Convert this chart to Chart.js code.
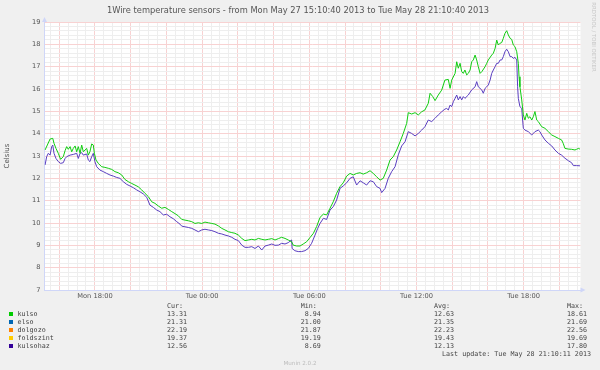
<!DOCTYPE html>
<html>
<head>
<meta charset="utf-8">
<script src="https://cdn.jsdelivr.net/npm/chart.js@4.4.0/dist/chart.umd.min.js"></script>
<style>
html, body { margin: 0; padding: 0; background: #f0f0f0; }
#wrap { position: relative; width: 600px; height: 370px; overflow: hidden; font-family: "DejaVu Sans", sans-serif; color: #555; }
#c { position: absolute; left: 0; top: 0; }
.t { position: absolute; white-space: pre; }
.mono { font-family: "DejaVu Sans Mono", monospace; font-size: 6.7px; line-height: 8px; color: #444; }
.box { position: absolute; width: 4px; height: 4px; }
</style>
</head>
<body>
<div id="wrap">
  <canvas id="c" width="600" height="370"></canvas>
  <div class="t" id="title" style="left:-2px; width:600px; top:5px; text-align:center; font-size:8.3px; line-height:10px; color:#555;">1Wire temperature sensors - from Mon May 27 15:10:40 2013 to Tue May 28 21:10:40 2013</div>
  <div class="t" id="ylabel" style="left:-23.5px; top:151px; width:60px; text-align:center; font-size:7px; line-height:10px; transform:rotate(-90deg);">Celsius</div>
  <div class="t" id="rrd" style="left:554px; top:33px; width:80px; text-align:center; font-size:5.4px; line-height:8px; color:#c8c8c8; transform:rotate(90deg);">RRDTOOL / TOBI OETIKER</div>
  <div id="legend"></div>
  <div class="t mono" style="left:442px; top:350px;">Last update: Tue May 28 21:10:11 2013</div>
  <div class="t" style="left:0; width:600px; top:359px; text-align:center; font-size:5.6px; line-height:8px; color:#bbb;">Munin 2.0.2</div>
</div>
<script>
// hours counted from Mon 00:00
const xMin = 15.178;
const xMax = 45.18;
const xTickHours = [18, 24, 30, 36, 42];
const xTickLabels = ['Mon 18:00', 'Tue 00:00', 'Tue 06:00', 'Tue 12:00', 'Tue 18:00'];

const kulsoTime = [15.21, 15.49, 15.64, 15.71, 15.82, 15.95, 16.08, 16.23, 16.33, 16.42, 16.51, 16.61, 16.70, 16.79, 16.89, 16.98, 17.07, 17.17, 17.26, 17.35,
  17.54, 17.63, 17.72, 17.82, 17.91, 17.97, 18.06, 18.19, 18.38, 18.56, 18.75, 18.94, 19.12, 19.31, 19.50, 19.68, 19.87, 20.06, 20.24, 20.43,
  20.62, 20.80, 20.99, 21.18, 21.36, 21.55, 21.74, 21.92, 22.11, 22.30, 22.48, 22.67, 22.86, 23.04, 23.23, 23.42, 23.60, 23.79, 23.98, 24.16,
  24.35, 24.54, 24.72, 24.91, 25.10, 25.28, 25.47, 25.66, 25.84, 26.03, 26.22, 26.40, 26.59, 26.78, 26.96, 27.15, 27.34, 27.52, 27.71, 27.90,
  28.08, 28.27, 28.45, 28.64, 28.82, 29.01, 29.10, 29.29, 29.48, 29.66, 29.85, 30.04, 30.23, 30.41, 30.60, 30.79, 30.97, 31.16, 31.34, 31.53,
  31.72, 31.90, 32.09, 32.28, 32.46, 32.65, 32.84, 33.02, 33.21, 33.40, 33.58, 33.77, 33.96, 34.14, 34.33, 34.52, 34.70, 34.89, 35.08, 35.26,
  35.45, 35.54, 35.73, 35.92, 36.10, 36.29, 36.47, 36.66, 36.76, 36.91, 37.04, 37.22, 37.41, 37.59, 37.78, 37.88, 37.97, 38.16, 38.25, 38.34,
  38.44, 38.53, 38.62, 38.71, 38.81, 38.90, 39.00, 39.09, 39.18, 39.28, 39.37, 39.46, 39.56, 39.66, 39.84, 39.93, 40.02, 40.21, 40.30, 40.40,
  40.49, 40.58, 40.68, 40.77, 40.86, 40.95, 41.05, 41.14, 41.24, 41.33, 41.42, 41.51, 41.61, 41.70, 41.74, 41.79, 41.89, 41.98, 42.07, 42.17,
  42.26, 42.35, 42.45, 42.54, 42.63, 42.73, 42.82, 43.01, 43.19, 43.38, 43.57, 43.75, 43.94, 44.12, 44.21, 44.31, 44.50, 44.68, 44.87, 44.96,
  45.06, 45.15];
const kulso = [13.27, 13.76, 13.79, 13.57, 13.34, 13.12, 12.85, 12.97, 13.24, 13.42, 13.30, 13.42, 13.19, 13.34, 13.45, 13.19, 13.42, 13.12, 13.49, 13.19,
  13.34, 13.04, 13.19, 13.54, 13.49, 13.12, 12.82, 12.67, 12.52, 12.49, 12.45, 12.40, 12.30, 12.25, 12.15, 11.95, 11.85, 11.77, 11.70, 11.62,
  11.48, 11.33, 11.18, 10.95, 10.88, 10.76, 10.66, 10.70, 10.61, 10.51, 10.42, 10.32, 10.16, 10.13, 10.10, 10.06, 9.98, 10.01, 9.98, 10.04,
  10.01, 9.98, 9.95, 9.87, 9.76, 9.69, 9.61, 9.57, 9.54, 9.46, 9.31, 9.21, 9.24, 9.27, 9.24, 9.31, 9.27, 9.24, 9.27, 9.30,
  9.24, 9.30, 9.36, 9.31, 9.24, 9.16, 9.01, 8.97, 8.97, 9.06, 9.16, 9.35, 9.54, 9.84, 10.25, 10.40, 10.36, 10.66, 10.95, 11.33,
  11.63, 11.80, 12.10, 12.22, 12.15, 12.22, 12.25, 12.19, 12.25, 12.34, 12.22, 12.07, 11.92, 12.00, 12.37, 12.82, 12.97, 13.27, 13.64, 14.01,
  14.46, 14.94, 14.88, 14.94, 14.84, 14.98, 15.06, 15.36, 15.81, 15.66, 15.48, 15.73, 15.95, 16.40, 16.43, 16.03, 16.40, 16.70, 17.22, 16.93,
  17.15, 16.78, 16.70, 16.85, 16.63, 16.70, 16.85, 17.22, 17.30, 17.52, 17.30, 17.00, 16.70, 16.78, 17.00, 17.15, 17.30, 17.52, 17.60, 17.82,
  18.19, 17.97, 18.05, 18.08, 18.27, 18.49, 18.61, 18.42, 18.27, 18.22, 17.97, 17.90, 17.67, 17.15, 16.55, 16.10, 15.51, 14.84, 14.61, 14.91,
  14.69, 14.76, 14.61, 14.76, 14.99, 14.61, 14.54, 14.31, 14.24, 14.09, 13.94, 13.87, 13.79, 13.72, 13.57, 13.34, 13.31, 13.30, 13.27, 13.30,
  13.34, 13.31];

const kulsohazTime = [15.21, 15.30, 15.39, 15.49, 15.58, 15.64, 15.71, 15.82, 15.95, 16.08, 16.23, 16.33, 16.42, 16.61, 16.79, 16.98, 17.07, 17.17, 17.26, 17.35,
  17.54, 17.63, 17.72, 17.82, 17.91, 18.00, 18.10, 18.28, 18.47, 18.66, 18.84, 19.03, 19.22, 19.40, 19.59, 19.78, 19.96, 20.15, 20.34, 20.52,
  20.71, 20.90, 21.08, 21.27, 21.46, 21.64, 21.83, 22.02, 22.20, 22.39, 22.58, 22.76, 22.86, 23.04, 23.23, 23.42, 23.60, 23.79, 23.98, 24.16,
  24.35, 24.54, 24.72, 24.91, 25.10, 25.28, 25.47, 25.66, 25.84, 26.03, 26.22, 26.40, 26.59, 26.78, 26.96, 27.15, 27.34, 27.52, 27.71, 27.90,
  28.08, 28.27, 28.45, 28.64, 28.82, 29.01, 29.04, 29.19, 29.38, 29.57, 29.76, 29.94, 30.13, 30.32, 30.47, 30.60, 30.79, 30.97, 31.16, 31.34,
  31.53, 31.72, 31.90, 32.09, 32.28, 32.46, 32.65, 32.84, 33.02, 33.21, 33.40, 33.58, 33.77, 33.96, 34.05, 34.24, 34.42, 34.61, 34.80, 34.98,
  35.17, 35.36, 35.54, 35.73, 35.92, 36.10, 36.29, 36.47, 36.66, 36.85, 37.04, 37.22, 37.41, 37.59, 37.69, 37.78, 37.88, 37.97, 38.06, 38.16,
  38.25, 38.34, 38.44, 38.53, 38.62, 38.71, 38.90, 39.09, 39.28, 39.37, 39.46, 39.65, 39.74, 39.84, 39.93, 40.02, 40.12, 40.21, 40.30, 40.40,
  40.49, 40.58, 40.68, 40.77, 40.86, 40.95, 41.05, 41.14, 41.24, 41.33, 41.42, 41.51, 41.61, 41.66, 41.70, 41.79, 41.89, 41.94, 41.98, 42.07,
  42.26, 42.45, 42.63, 42.82, 42.91, 43.01, 43.19, 43.38, 43.57, 43.75, 43.94, 44.12, 44.31, 44.50, 44.68, 44.78, 44.96, 45.15];
const kulsohaz = [12.60, 12.97, 13.12, 13.04, 13.42, 13.49, 13.12, 12.89, 12.75, 12.67, 12.70, 12.89, 12.97, 13.04, 13.07, 13.12, 12.89, 13.12, 13.15, 13.04,
  13.09, 12.82, 12.75, 12.97, 13.12, 12.75, 12.52, 12.37, 12.30, 12.22, 12.15, 12.10, 12.04, 12.00, 11.85, 11.73, 11.66, 11.58, 11.48, 11.40,
  11.30, 11.15, 10.80, 10.70, 10.58, 10.51, 10.36, 10.39, 10.28, 10.19, 10.06, 9.95, 9.86, 9.83, 9.80, 9.76, 9.69, 9.61, 9.69, 9.72,
  9.69, 9.66, 9.61, 9.54, 9.51, 9.46, 9.42, 9.36, 9.27, 9.21, 9.01, 8.91, 8.91, 8.94, 8.86, 8.97, 8.79, 8.97, 9.01, 9.06,
  9.00, 9.01, 9.09, 9.06, 9.12, 9.24, 8.86, 8.76, 8.72, 8.72, 8.76, 8.86, 9.09, 9.46, 9.76, 9.98, 10.21, 10.16, 10.58, 10.73,
  11.03, 11.55, 11.66, 11.80, 12.00, 12.07, 11.70, 11.89, 11.80, 11.70, 11.89, 11.85, 11.63, 11.55, 11.36, 11.55, 12.00, 12.30, 12.52, 13.05,
  13.45, 13.64, 14.09, 14.01, 13.90, 14.01, 14.16, 14.31, 14.61, 14.54, 14.69, 14.84, 14.98, 15.10, 15.13, 15.06, 15.28, 15.21, 15.43, 15.58,
  15.73, 15.51, 15.66, 15.51, 15.66, 15.58, 15.73, 15.96, 16.10, 16.33, 16.10, 15.96, 15.81, 16.03, 16.10, 16.18, 16.40, 16.70, 16.85, 17.00,
  17.15, 17.15, 17.30, 17.30, 17.45, 17.67, 17.78, 17.67, 17.45, 17.45, 17.37, 17.42, 17.30, 16.10, 15.58, 15.21, 15.13, 14.61, 14.24, 14.16,
  14.09, 13.94, 14.09, 14.16, 14.09, 13.94, 13.72, 13.57, 13.45, 13.27, 13.12, 13.04, 12.90, 12.79, 12.70, 12.57, 12.57, 12.56];

// legend table
const seriesNames = ['kulso', 'elso', 'dolgozo', 'foldszint', 'kulsohaz'];
const seriesColors = ['#00cc00', '#0066b3', '#ff8000', '#ffcc00', '#330099'];
const curVals = [13.31, 21.31, 22.19, 19.37, 12.56];
const minVals = [8.94, 21.00, 21.87, 19.19, 8.69];
const avgVals = [12.63, 21.35, 22.23, 19.43, 12.13];
const maxVals = [18.61, 21.69, 22.56, 19.69, 17.80];

const legend = document.getElementById('legend');
function addText(cls, left, top, text) {
    const d = document.createElement('div');
    d.className = cls;
    d.style.left = left + 'px';
    d.style.top = top + 'px';
    d.textContent = text;
    legend.appendChild(d);
}
seriesNames.forEach((name, i) => {
    const b = document.createElement('div');
    b.className = 'box';
    b.style.left = '9px';
    b.style.top = (312 + i * 8) + 'px';
    b.style.background = seriesColors[i];
    legend.appendChild(b);
});
addText('t mono', 17.5, 310, seriesNames.join('\n'));
const cols = [['Cur:', curVals, 167], ['Min:', minVals, 300.7], ['Avg:', avgVals, 434], ['Max:', maxVals, 567]];
cols.forEach(([head, vals, left]) => {
    addText('t mono', left, 302, head + '\n' + vals.map(v => v.toFixed(2).padStart(5, ' ')).join('\n'));
});

const axisColor = '#cfd6f8';
const frame = {
    id: 'frame',
    beforeDraw(chart) {
        const { ctx, chartArea: a } = chart;
        ctx.save();
        ctx.fillStyle = '#f0f0f0';
        ctx.fillRect(0, 0, chart.width, chart.height);
        ctx.fillStyle = '#ffffff';
        ctx.fillRect(a.left, a.top, a.right - a.left, a.bottom - a.top);
        ctx.restore();
    },
    afterDraw(chart) {
        const { ctx, chartArea: a } = chart;
        ctx.save();
        ctx.fillStyle = axisColor;
        ctx.beginPath();
        ctx.moveTo(a.left, a.top - 5);
        ctx.lineTo(a.left - 2.5, a.top);
        ctx.lineTo(a.left + 2.5, a.top);
        ctx.fill();
        ctx.beginPath();
        ctx.moveTo(a.right + 5, a.bottom);
        ctx.lineTo(a.right, a.bottom - 2.5);
        ctx.lineTo(a.right, a.bottom + 2.5);
        ctx.fill();
        ctx.restore();
    }
};

const tickFont = { family: 'DejaVu Sans', size: 6.7 };
const isWhole = (v, n) => Math.abs(v / n - Math.round(v / n)) < 1e-6;
const majorGrid = '#f8d2d2';
const minorGrid = '#eeeeee';

new Chart(document.getElementById('c'), {
    type: 'line',
    data: {
        datasets: [
            {
                label: 'kulso',
                data: kulsoTime.map((t, i) => ({ x: t, y: kulso[i] })),
                borderColor: '#11cc11',
                borderWidth: 1,
                pointRadius: 0,
                tension: 0
            },
            {
                label: 'kulsohaz',
                data: kulsohazTime.map((t, i) => ({ x: t, y: kulsohaz[i] })),
                borderColor: '#5a3ec0',
                borderWidth: 1,
                pointRadius: 0,
                tension: 0
            }
        ]
    },
    options: {
        responsive: false,
        animation: false,
        devicePixelRatio: 1,
        layout: { padding: { left: 4.5, top: 22, right: 19.5, bottom: 0 } },
        plugins: { legend: { display: false }, tooltip: { enabled: false } },
        scales: {
            x: {
                type: 'linear',
                min: xMin,
                max: xMax,
                afterFit: s => { s.height = 80; },
                ticks: {
                    stepSize: 0.5,
                    includeBounds: false,
                    autoSkip: false,
                    maxRotation: 0,
                    padding: 2,
                    color: '#555',
                    font: tickFont,
                    callback: v => {
                        const i = xTickHours.indexOf(v);
                        return i >= 0 ? xTickLabels[i] : '';
                    }
                },
                grid: {
                    drawTicks: false,
                    color: c => isWhole(c.tick.value, 2) ? majorGrid : minorGrid
                },
                border: { color: axisColor }
            },
            y: {
                min: 7,
                max: 19,
                afterFit: s => { s.width = 40; },
                ticks: {
                    stepSize: 0.2,
                    autoSkip: false,
                    padding: 4,
                    color: '#555',
                    font: tickFont,
                    callback: v => isWhole(v, 1) ? String(Math.round(v)) : ''
                },
                grid: {
                    drawTicks: false,
                    color: c => isWhole(c.tick.value, 1) ? majorGrid : minorGrid
                },
                border: { color: axisColor }
            }
        }
    },
    plugins: [frame]
});
</script>
</body>
</html>
